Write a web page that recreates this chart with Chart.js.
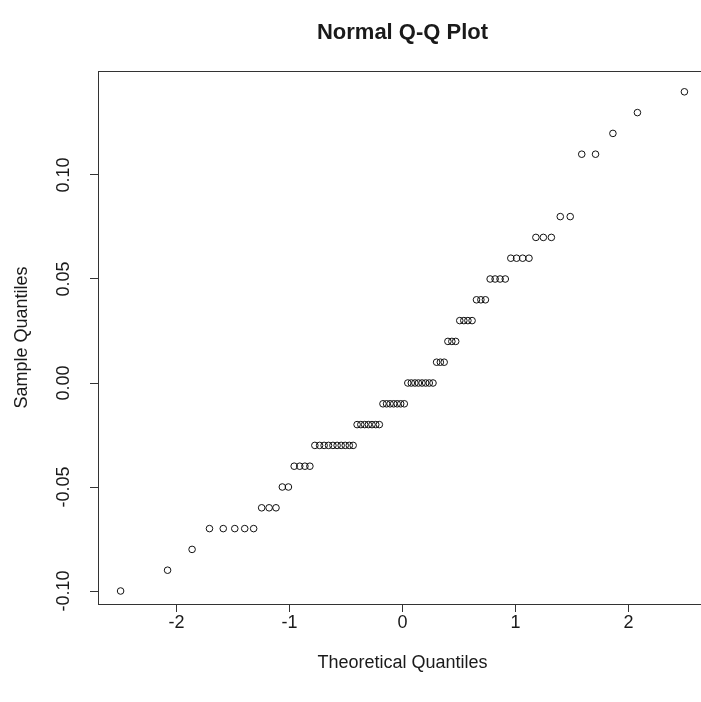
<!DOCTYPE html>
<html>
<head>
<meta charset="utf-8">
<title>Normal Q-Q Plot</title>
<script src="https://cdn.jsdelivr.net/npm/chart.js@4.4.1/dist/chart.umd.min.js"></script>
<style>
  html, body { margin: 0; padding: 0; background: #fff; overflow: hidden; }
</style>
</head>
<body>
<canvas id="qq" width="712" height="702"></canvas>
<script>
// theoretical quantiles (x) and sorted sample values (y)
const theoretical = [
  -2.496, -2.080, -1.863, -1.709, -1.587, -1.485, -1.397, -1.318, -1.247, -1.181,
  -1.120, -1.064, -1.010, -0.959, -0.910, -0.864, -0.820, -0.776, -0.734, -0.694,
  -0.655, -0.616, -0.579, -0.543, -0.507, -0.471, -0.437, -0.402, -0.369, -0.335,
  -0.302, -0.270, -0.237, -0.205, -0.173, -0.141, -0.110, -0.078, -0.047, -0.016,
  0.016, 0.047, 0.078, 0.110, 0.141, 0.173, 0.205, 0.237, 0.270, 0.302,
  0.335, 0.369, 0.402, 0.437, 0.471, 0.507, 0.543, 0.579, 0.616, 0.655,
  0.694, 0.734, 0.776, 0.820, 0.864, 0.910, 0.959, 1.010, 1.064, 1.120,
  1.181, 1.247, 1.318, 1.397, 1.485, 1.587, 1.709, 1.863, 2.080, 2.496
];
const sample = [
  -0.10, -0.09, -0.08,
  -0.07, -0.07, -0.07, -0.07, -0.07,
  -0.06, -0.06, -0.06,
  -0.05, -0.05,
  -0.04, -0.04, -0.04, -0.04,
  -0.03, -0.03, -0.03, -0.03, -0.03, -0.03, -0.03, -0.03, -0.03, -0.03,
  -0.02, -0.02, -0.02, -0.02, -0.02, -0.02, -0.02,
  -0.01, -0.01, -0.01, -0.01, -0.01, -0.01, -0.01,
  0.00, 0.00, 0.00, 0.00, 0.00, 0.00, 0.00, 0.00,
  0.01, 0.01, 0.01,
  0.02, 0.02, 0.02,
  0.03, 0.03, 0.03, 0.03,
  0.04, 0.04, 0.04,
  0.05, 0.05, 0.05, 0.05,
  0.06, 0.06, 0.06, 0.06,
  0.07, 0.07, 0.07,
  0.08, 0.08,
  0.11, 0.11,
  0.12, 0.13, 0.14
];
const xTicks = [-2, -1, 0, 1, 2];
const yTicks = [-0.10, -0.05, 0.00, 0.05, 0.10];

const FONT = '"Liberation Sans", Arial, sans-serif';
const INK = '#1a1a1a';

// R draws a full box round the plot region
const boxPlugin = {
  id: 'box',
  afterDraw(chart) {
    const { ctx, chartArea: a } = chart;
    ctx.save();
    ctx.strokeStyle = '#333';
    ctx.lineWidth = 1;
    ctx.strokeRect(Math.round(a.left) + 0.5, Math.round(a.top) + 0.5,
      Math.round(a.right - a.left), Math.round(a.bottom - a.top));
    ctx.restore();
  }
};

new Chart(document.getElementById('qq'), {
  type: 'scatter',
  data: {
    datasets: [{
      data: theoretical.map((x, i) => ({ x, y: sample[i] })),
      pointStyle: 'circle',
      pointRadius: 3.3,
      borderWidth: 1,
      borderColor: '#111',
      backgroundColor: 'rgba(0,0,0,0)'
    }]
  },
  options: {
    responsive: false,
    animation: false,
    events: [],
    layout: { padding: { left: 0, right: 3, top: 0, bottom: 0 } },
    plugins: { legend: { display: false }, tooltip: { enabled: false } },
    scales: {
      x: {
        type: 'linear',
        position: 'bottom',
        min: -2.696,
        max: 2.696,
        afterBuildTicks: s => { s.ticks = xTicks.map(v => ({ value: v })); },
        afterFit: s => { s.height = 98; },
        border: { display: false },
        grid: { drawOnChartArea: false, drawTicks: true, tickLength: 8, color: '#333' },
        ticks: { color: INK, font: { family: FONT, size: 18 }, padding: 0, autoSkip: false },
        title: {
          display: true, text: 'Theoretical Quantiles', color: INK,
          font: { family: FONT, size: 18 }, padding: { top: 0, bottom: 28 }
        }
      },
      top: {
        type: 'linear',
        position: 'top',
        min: -2.696,
        max: 2.696,
        afterFit: s => { s.height = 71; },
        border: { display: false },
        grid: { display: false },
        ticks: { display: false },
        title: {
          display: true, text: 'Normal Q-Q Plot', color: INK,
          font: { family: FONT, size: 22, weight: 'bold' }, padding: { top: 20, bottom: 0 }
        }
      },
      y: {
        type: 'linear',
        position: 'left',
        min: -0.10625,
        max: 0.15,
        afterBuildTicks: s => { s.ticks = yTicks.map(v => ({ value: v })); },
        afterFit: s => { s.width = 98; },
        border: { display: false },
        grid: { drawOnChartArea: false, drawTicks: true, tickLength: 8, color: '#333' },
        ticks: {
          color: INK, font: { family: FONT, size: 18 }, padding: 5, autoSkip: false,
          minRotation: 90, maxRotation: 90, crossAlign: 'center',
          callback: v => v.toFixed(2)
        },
        title: {
          display: true, text: 'Sample Quantiles', color: INK,
          font: { family: FONT, size: 18 }, padding: { top: 11, bottom: 0 }
        }
      }
    }
  },
  plugins: [boxPlugin]
});
</script>
</body>
</html>
